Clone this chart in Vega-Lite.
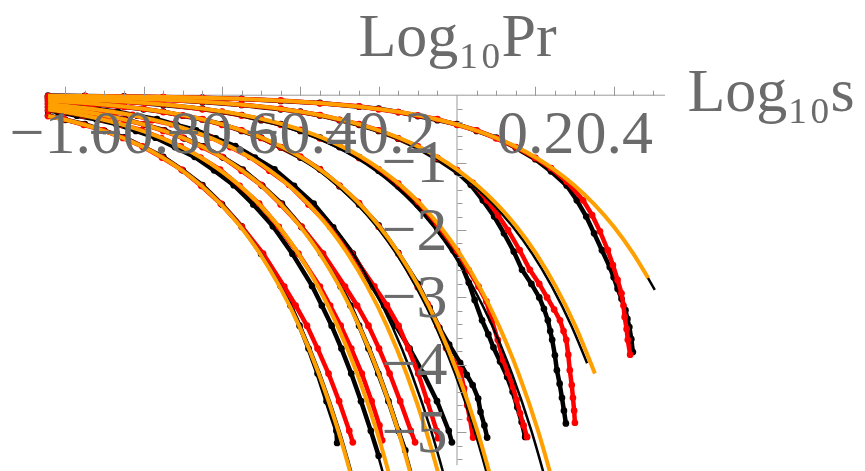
{
"$schema": "https://vega.github.io/schema/vega-lite/v6.json",
"width": 865, "height": 471, "autosize": "none", "padding": 0, "background": "white",
"config": {"view": {"stroke": null}, "axis": {"grid": false}},
"datasets": {
"axes": [{"x1": -1.044, "x2": 0.531, "y1": 0, "y2": 0}, {"x1": 0, "x2": 0, "y1": 0, "y2": -5.49}],
"od": [
{"g":"A","x":-1.044,"y":-0.009},{"g":"A","x":-1.0,"y":-0.010},{"g":"A","x":-0.9,"y":-0.015},{"g":"A","x":-0.8,"y":-0.022},{"g":"A","x":-0.7,"y":-0.031},{"g":"A","x":-0.6,"y":-0.046},{"g":"A","x":-0.5,"y":-0.067},{"g":"A","x":-0.4,"y":-0.097},{"g":"A","x":-0.3,"y":-0.141},{"g":"A","x":-0.2,"y":-0.205},{"g":"A","x":-0.15,"y":-0.247},{"g":"A","x":-0.1,"y":-0.298},{"g":"A","x":-0.05,"y":-0.36},{"g":"A","x":0,"y":-0.434},{"g":"A","x":0.05,"y":-0.524},{"g":"A","x":0.1,"y":-0.632},{"g":"A","x":0.15,"y":-0.763},{"g":"A","x":0.2,"y":-0.92},{"g":"A","x":0.25,"y":-1.11},{"g":"A","x":0.3,"y":-1.339},{"g":"A","x":0.35,"y":-1.616},{"g":"A","x":0.4,"y":-1.949},{"g":"A","x":0.45,"y":-2.351},{"g":"A","x":0.488,"y":-2.712},
{"g":"B","x":-1.044,"y":-0.022},{"g":"B","x":-0.948,"y":-0.031},{"g":"B","x":-0.848,"y":-0.046},{"g":"B","x":-0.748,"y":-0.067},{"g":"B","x":-0.648,"y":-0.097},{"g":"B","x":-0.548,"y":-0.141},{"g":"B","x":-0.448,"y":-0.205},{"g":"B","x":-0.398,"y":-0.247},{"g":"B","x":-0.348,"y":-0.298},{"g":"B","x":-0.298,"y":-0.36},{"g":"B","x":-0.248,"y":-0.434},{"g":"B","x":-0.198,"y":-0.524},{"g":"B","x":-0.148,"y":-0.632},{"g":"B","x":-0.098,"y":-0.763},{"g":"B","x":-0.048,"y":-0.92},{"g":"B","x":0.002,"y":-1.11},{"g":"B","x":0.052,"y":-1.339},{"g":"B","x":0.102,"y":-1.616},{"g":"B","x":0.152,"y":-1.949},{"g":"B","x":0.202,"y":-2.351},{"g":"B","x":0.252,"y":-2.837},{"g":"B","x":0.302,"y":-3.422},{"g":"B","x":0.352,"y":-4.129},
{"g":"C","x":-1.044,"y":-0.046},{"g":"C","x":-0.943,"y":-0.067},{"g":"C","x":-0.843,"y":-0.097},{"g":"C","x":-0.743,"y":-0.141},{"g":"C","x":-0.643,"y":-0.205},{"g":"C","x":-0.593,"y":-0.247},{"g":"C","x":-0.543,"y":-0.298},{"g":"C","x":-0.493,"y":-0.36},{"g":"C","x":-0.443,"y":-0.434},{"g":"C","x":-0.393,"y":-0.524},{"g":"C","x":-0.343,"y":-0.632},{"g":"C","x":-0.293,"y":-0.763},{"g":"C","x":-0.243,"y":-0.92},{"g":"C","x":-0.193,"y":-1.11},{"g":"C","x":-0.143,"y":-1.339},{"g":"C","x":-0.093,"y":-1.616},{"g":"C","x":-0.043,"y":-1.949},{"g":"C","x":0.007,"y":-2.351},{"g":"C","x":0.057,"y":-2.837},{"g":"C","x":0.107,"y":-3.422},{"g":"C","x":0.157,"y":-4.129},{"g":"C","x":0.207,"y":-4.981},{"g":"C","x":0.257,"y":-6.009},
{"g":"D","x":-1.044,"y":-0.081},{"g":"D","x":-0.998,"y":-0.097},{"g":"D","x":-0.898,"y":-0.141},{"g":"D","x":-0.798,"y":-0.205},{"g":"D","x":-0.748,"y":-0.247},{"g":"D","x":-0.698,"y":-0.298},{"g":"D","x":-0.648,"y":-0.36},{"g":"D","x":-0.598,"y":-0.434},{"g":"D","x":-0.548,"y":-0.524},{"g":"D","x":-0.498,"y":-0.632},{"g":"D","x":-0.448,"y":-0.763},{"g":"D","x":-0.398,"y":-0.92},{"g":"D","x":-0.348,"y":-1.11},{"g":"D","x":-0.298,"y":-1.339},{"g":"D","x":-0.248,"y":-1.616},{"g":"D","x":-0.198,"y":-1.949},{"g":"D","x":-0.148,"y":-2.351},{"g":"D","x":-0.098,"y":-2.837},{"g":"D","x":-0.048,"y":-3.422},{"g":"D","x":0.002,"y":-4.129},{"g":"D","x":0.052,"y":-4.981},{"g":"D","x":0.102,"y":-6.009},
{"g":"E","x":-1.044,"y":-0.133},{"g":"E","x":-1.029,"y":-0.141},{"g":"E","x":-0.929,"y":-0.205},{"g":"E","x":-0.879,"y":-0.247},{"g":"E","x":-0.829,"y":-0.298},{"g":"E","x":-0.779,"y":-0.36},{"g":"E","x":-0.729,"y":-0.434},{"g":"E","x":-0.679,"y":-0.524},{"g":"E","x":-0.629,"y":-0.632},{"g":"E","x":-0.579,"y":-0.763},{"g":"E","x":-0.529,"y":-0.92},{"g":"E","x":-0.479,"y":-1.11},{"g":"E","x":-0.429,"y":-1.339},{"g":"E","x":-0.379,"y":-1.616},{"g":"E","x":-0.329,"y":-1.949},{"g":"E","x":-0.279,"y":-2.351},{"g":"E","x":-0.229,"y":-2.837},{"g":"E","x":-0.179,"y":-3.422},{"g":"E","x":-0.129,"y":-4.129},{"g":"E","x":-0.079,"y":-4.981},{"g":"E","x":-0.029,"y":-6.009},
{"g":"F","x":-1.044,"y":-0.174},{"g":"F","x":-1.0,"y":-0.205},{"g":"F","x":-0.95,"y":-0.247},{"g":"F","x":-0.9,"y":-0.298},{"g":"F","x":-0.85,"y":-0.36},{"g":"F","x":-0.8,"y":-0.434},{"g":"F","x":-0.75,"y":-0.524},{"g":"F","x":-0.7,"y":-0.632},{"g":"F","x":-0.65,"y":-0.763},{"g":"F","x":-0.6,"y":-0.92},{"g":"F","x":-0.55,"y":-1.11},{"g":"F","x":-0.5,"y":-1.339},{"g":"F","x":-0.45,"y":-1.616},{"g":"F","x":-0.4,"y":-1.949},{"g":"F","x":-0.35,"y":-2.351},{"g":"F","x":-0.3,"y":-2.837},{"g":"F","x":-0.25,"y":-3.422},{"g":"F","x":-0.2,"y":-4.129},{"g":"F","x":-0.15,"y":-4.981},{"g":"F","x":-0.1,"y":-6.009},
{"g":"G","x":-1.044,"y":-0.214},{"g":"G","x":-1.005,"y":-0.247},{"g":"G","x":-0.955,"y":-0.298},{"g":"G","x":-0.905,"y":-0.36},{"g":"G","x":-0.855,"y":-0.434},{"g":"G","x":-0.805,"y":-0.524},{"g":"G","x":-0.755,"y":-0.632},{"g":"G","x":-0.705,"y":-0.763},{"g":"G","x":-0.655,"y":-0.92},{"g":"G","x":-0.605,"y":-1.11},{"g":"G","x":-0.555,"y":-1.339},{"g":"G","x":-0.505,"y":-1.616},{"g":"G","x":-0.455,"y":-1.949},{"g":"G","x":-0.405,"y":-2.351},{"g":"G","x":-0.355,"y":-2.837},{"g":"G","x":-0.305,"y":-3.422},{"g":"G","x":-0.255,"y":-4.129},{"g":"G","x":-0.205,"y":-4.981},{"g":"G","x":-0.155,"y":-6.009},
{"g":"H","x":-1.044,"y":-0.309},{"g":"H","x":-1.003,"y":-0.36},{"g":"H","x":-0.953,"y":-0.434},{"g":"H","x":-0.903,"y":-0.524},{"g":"H","x":-0.853,"y":-0.632},{"g":"H","x":-0.803,"y":-0.763},{"g":"H","x":-0.753,"y":-0.92},{"g":"H","x":-0.703,"y":-1.11},{"g":"H","x":-0.653,"y":-1.339},{"g":"H","x":-0.603,"y":-1.616},{"g":"H","x":-0.553,"y":-1.949},{"g":"H","x":-0.503,"y":-2.351},{"g":"H","x":-0.453,"y":-2.837},{"g":"H","x":-0.403,"y":-3.422},{"g":"H","x":-0.353,"y":-4.129},{"g":"H","x":-0.303,"y":-4.981},{"g":"H","x":-0.253,"y":-6.009}
],
"bf": [
{"g":"A","x":-1.044,"y":-0.009},{"g":"A","x":-1.0,"y":-0.010},{"g":"A","x":-0.9,"y":-0.015},{"g":"A","x":-0.8,"y":-0.022},{"g":"A","x":-0.7,"y":-0.031},{"g":"A","x":-0.6,"y":-0.046},{"g":"A","x":-0.5,"y":-0.067},{"g":"A","x":-0.4,"y":-0.097},{"g":"A","x":-0.3,"y":-0.141},{"g":"A","x":-0.2,"y":-0.205},{"g":"A","x":-0.15,"y":-0.247},{"g":"A","x":-0.1,"y":-0.298},{"g":"A","x":-0.05,"y":-0.36},{"g":"A","x":0,"y":-0.434},{"g":"A","x":0.05,"y":-0.524},{"g":"A","x":0.1,"y":-0.632},{"g":"A","x":0.15,"y":-0.763},{"g":"A","x":0.2,"y":-0.92},{"g":"A","x":0.25,"y":-1.11},{"g":"A","x":0.3,"y":-1.339},{"g":"A","x":0.35,"y":-1.616},{"g":"A","x":0.4,"y":-1.949},{"g":"A","x":0.45,"y":-2.351},{"g":"A","x":0.505,"y":-2.89},
{"g":"B","x":-1.044,"y":-0.023},{"g":"B","x":-0.958,"y":-0.031},{"g":"B","x":-0.858,"y":-0.046},{"g":"B","x":-0.758,"y":-0.067},{"g":"B","x":-0.658,"y":-0.097},{"g":"B","x":-0.558,"y":-0.141},{"g":"B","x":-0.458,"y":-0.205},{"g":"B","x":-0.408,"y":-0.247},{"g":"B","x":-0.358,"y":-0.298},{"g":"B","x":-0.308,"y":-0.36},{"g":"B","x":-0.258,"y":-0.434},{"g":"B","x":-0.208,"y":-0.524},{"g":"B","x":-0.158,"y":-0.632},{"g":"B","x":-0.108,"y":-0.763},{"g":"B","x":-0.058,"y":-0.92},{"g":"B","x":-0.008,"y":-1.11},{"g":"B","x":0.042,"y":-1.339},{"g":"B","x":0.092,"y":-1.616},{"g":"B","x":0.142,"y":-1.949},{"g":"B","x":0.192,"y":-2.351},{"g":"B","x":0.242,"y":-2.837},{"g":"B","x":0.292,"y":-3.422},{"g":"B","x":0.332,"y":-3.976},
{"g":"C","x":-1.044,"y":-0.049},{"g":"C","x":-0.96,"y":-0.067},{"g":"C","x":-0.86,"y":-0.097},{"g":"C","x":-0.76,"y":-0.141},{"g":"C","x":-0.66,"y":-0.205},{"g":"C","x":-0.61,"y":-0.247},{"g":"C","x":-0.56,"y":-0.298},{"g":"C","x":-0.51,"y":-0.36},{"g":"C","x":-0.46,"y":-0.434},{"g":"C","x":-0.41,"y":-0.524},{"g":"C","x":-0.36,"y":-0.632},{"g":"C","x":-0.31,"y":-0.763},{"g":"C","x":-0.26,"y":-0.92},{"g":"C","x":-0.21,"y":-1.11},{"g":"C","x":-0.16,"y":-1.339},{"g":"C","x":-0.11,"y":-1.616},{"g":"C","x":-0.06,"y":-1.949},{"g":"C","x":-0.01,"y":-2.351},{"g":"C","x":0.04,"y":-2.837},{"g":"C","x":0.09,"y":-3.422},{"g":"C","x":0.14,"y":-4.129},{"g":"C","x":0.19,"y":-4.981},{"g":"C","x":0.24,"y":-6.009},
{"g":"D","x":-1.044,"y":-0.084},{"g":"D","x":-1.005,"y":-0.097},{"g":"D","x":-0.905,"y":-0.141},{"g":"D","x":-0.805,"y":-0.205},{"g":"D","x":-0.755,"y":-0.247},{"g":"D","x":-0.705,"y":-0.298},{"g":"D","x":-0.655,"y":-0.36},{"g":"D","x":-0.605,"y":-0.434},{"g":"D","x":-0.555,"y":-0.524},{"g":"D","x":-0.505,"y":-0.632},{"g":"D","x":-0.455,"y":-0.763},{"g":"D","x":-0.405,"y":-0.92},{"g":"D","x":-0.355,"y":-1.11},{"g":"D","x":-0.305,"y":-1.339},{"g":"D","x":-0.255,"y":-1.616},{"g":"D","x":-0.205,"y":-1.949},{"g":"D","x":-0.155,"y":-2.351},{"g":"D","x":-0.105,"y":-2.837},{"g":"D","x":-0.055,"y":-3.422},{"g":"D","x":-0.005,"y":-4.129},{"g":"D","x":0.045,"y":-4.981},{"g":"D","x":0.095,"y":-6.009},
{"g":"E","x":-1.044,"y":-0.127},{"g":"E","x":-1.016,"y":-0.141},{"g":"E","x":-0.916,"y":-0.205},{"g":"E","x":-0.866,"y":-0.247},{"g":"E","x":-0.816,"y":-0.298},{"g":"E","x":-0.766,"y":-0.36},{"g":"E","x":-0.716,"y":-0.434},{"g":"E","x":-0.666,"y":-0.524},{"g":"E","x":-0.616,"y":-0.632},{"g":"E","x":-0.566,"y":-0.763},{"g":"E","x":-0.516,"y":-0.92},{"g":"E","x":-0.466,"y":-1.11},{"g":"E","x":-0.416,"y":-1.339},{"g":"E","x":-0.366,"y":-1.616},{"g":"E","x":-0.316,"y":-1.949},{"g":"E","x":-0.266,"y":-2.351},{"g":"E","x":-0.216,"y":-2.837},{"g":"E","x":-0.166,"y":-3.422},{"g":"E","x":-0.116,"y":-4.129},{"g":"E","x":-0.066,"y":-4.981},{"g":"E","x":-0.016,"y":-6.009},
{"g":"F","x":-1.044,"y":-0.172},{"g":"F","x":-0.997,"y":-0.205},{"g":"F","x":-0.947,"y":-0.247},{"g":"F","x":-0.897,"y":-0.298},{"g":"F","x":-0.847,"y":-0.36},{"g":"F","x":-0.797,"y":-0.434},{"g":"F","x":-0.747,"y":-0.524},{"g":"F","x":-0.697,"y":-0.632},{"g":"F","x":-0.647,"y":-0.763},{"g":"F","x":-0.597,"y":-0.92},{"g":"F","x":-0.547,"y":-1.11},{"g":"F","x":-0.497,"y":-1.339},{"g":"F","x":-0.447,"y":-1.616},{"g":"F","x":-0.397,"y":-1.949},{"g":"F","x":-0.347,"y":-2.351},{"g":"F","x":-0.297,"y":-2.837},{"g":"F","x":-0.247,"y":-3.422},{"g":"F","x":-0.197,"y":-4.129},{"g":"F","x":-0.147,"y":-4.981},{"g":"F","x":-0.097,"y":-6.009},
{"g":"G","x":-1.044,"y":-0.226},{"g":"G","x":-1.02,"y":-0.247},{"g":"G","x":-0.97,"y":-0.298},{"g":"G","x":-0.92,"y":-0.36},{"g":"G","x":-0.87,"y":-0.434},{"g":"G","x":-0.82,"y":-0.524},{"g":"G","x":-0.77,"y":-0.632},{"g":"G","x":-0.72,"y":-0.763},{"g":"G","x":-0.67,"y":-0.92},{"g":"G","x":-0.62,"y":-1.11},{"g":"G","x":-0.57,"y":-1.339},{"g":"G","x":-0.52,"y":-1.616},{"g":"G","x":-0.47,"y":-1.949},{"g":"G","x":-0.42,"y":-2.351},{"g":"G","x":-0.37,"y":-2.837},{"g":"G","x":-0.32,"y":-3.422},{"g":"G","x":-0.27,"y":-4.129},{"g":"G","x":-0.22,"y":-4.981},{"g":"G","x":-0.17,"y":-6.009},
{"g":"H","x":-1.044,"y":-0.305},{"g":"H","x":-1.0,"y":-0.36},{"g":"H","x":-0.95,"y":-0.434},{"g":"H","x":-0.9,"y":-0.524},{"g":"H","x":-0.85,"y":-0.632},{"g":"H","x":-0.8,"y":-0.763},{"g":"H","x":-0.75,"y":-0.92},{"g":"H","x":-0.7,"y":-1.11},{"g":"H","x":-0.65,"y":-1.339},{"g":"H","x":-0.6,"y":-1.616},{"g":"H","x":-0.55,"y":-1.949},{"g":"H","x":-0.5,"y":-2.351},{"g":"H","x":-0.45,"y":-2.837},{"g":"H","x":-0.4,"y":-3.422},{"g":"H","x":-0.35,"y":-4.129},{"g":"H","x":-0.3,"y":-4.981},{"g":"H","x":-0.25,"y":-6.009}
],
"rd": [
{"g":"A","x":-1.044,"y":-0.012},{"g":"A","x":-0.95,"y":-0.014},{"g":"A","x":-0.85,"y":-0.02},{"g":"A","x":-0.75,"y":-0.028},{"g":"A","x":-0.65,"y":-0.036},{"g":"A","x":-0.55,"y":-0.058},{"g":"A","x":-0.45,"y":-0.078},{"g":"A","x":-0.35,"y":-0.12},{"g":"A","x":-0.25,"y":-0.165},{"g":"A","x":-0.2,"y":-0.21},{"g":"A","x":-0.15,"y":-0.25},{"g":"A","x":-0.1,"y":-0.3},{"g":"A","x":-0.05,"y":-0.355},{"g":"A","x":0,"y":-0.44},{"g":"A","x":0.05,"y":-0.52},{"g":"A","x":0.1,"y":-0.64},{"g":"A","x":0.15,"y":-0.77},{"g":"A","x":0.2,"y":-0.93},{"g":"A","x":0.24,"y":-1.08},{"g":"A","x":0.28,"y":-1.28},{"g":"A","x":0.322,"y":-1.56},{"g":"A","x":0.345,"y":-1.78},{"g":"A","x":0.365,"y":-2.02},{"g":"A","x":0.385,"y":-2.3},{"g":"A","x":0.398,"y":-2.52},{"g":"A","x":0.41,"y":-2.74},{"g":"A","x":0.42,"y":-2.94},{"g":"A","x":0.425,"y":-3.12},{"g":"A","x":0.428,"y":-3.29},{"g":"A","x":0.433,"y":-3.47},{"g":"A","x":0.436,"y":-3.63},{"g":"A","x":0.442,"y":-3.85},
{"g":"B","x":-1.044,"y":-0.025},{"g":"B","x":-0.95,"y":-0.03},{"g":"B","x":-0.85,"y":-0.045},{"g":"B","x":-0.75,"y":-0.07},{"g":"B","x":-0.65,"y":-0.095},{"g":"B","x":-0.55,"y":-0.14},{"g":"B","x":-0.45,"y":-0.2},{"g":"B","x":-0.4,"y":-0.25},{"g":"B","x":-0.35,"y":-0.295},{"g":"B","x":-0.3,"y":-0.365},{"g":"B","x":-0.25,"y":-0.43},{"g":"B","x":-0.2,"y":-0.52},{"g":"B","x":-0.15,"y":-0.64},{"g":"B","x":-0.1,"y":-0.76},{"g":"B","x":-0.05,"y":-0.93},{"g":"B","x":0,"y":-1.11},{"g":"B","x":0.04,"y":-1.3},{"g":"B","x":0.077,"y":-1.56},{"g":"B","x":0.105,"y":-1.78},{"g":"B","x":0.13,"y":-2.0},{"g":"B","x":0.16,"y":-2.3},{"g":"B","x":0.186,"y":-2.59},{"g":"B","x":0.21,"y":-2.8},{"g":"B","x":0.23,"y":-3.0},{"g":"B","x":0.248,"y":-3.18},{"g":"B","x":0.263,"y":-3.34},{"g":"B","x":0.272,"y":-3.5},{"g":"B","x":0.279,"y":-3.63},{"g":"B","x":0.284,"y":-3.85},{"g":"B","x":0.288,"y":-4.08},{"g":"B","x":0.293,"y":-4.3},{"g":"B","x":0.296,"y":-4.49},{"g":"B","x":0.299,"y":-4.68},{"g":"B","x":0.301,"y":-4.86},
{"g":"C","x":-1.044,"y":-0.05},{"g":"C","x":-0.95,"y":-0.06},{"g":"C","x":-0.85,"y":-0.1},{"g":"C","x":-0.75,"y":-0.135},{"g":"C","x":-0.65,"y":-0.21},{"g":"C","x":-0.6,"y":-0.245},{"g":"C","x":-0.55,"y":-0.3},{"g":"C","x":-0.5,"y":-0.355},{"g":"C","x":-0.45,"y":-0.44},{"g":"C","x":-0.4,"y":-0.515},{"g":"C","x":-0.35,"y":-0.64},{"g":"C","x":-0.3,"y":-0.755},{"g":"C","x":-0.25,"y":-0.93},{"g":"C","x":-0.2,"y":-1.1},{"g":"C","x":-0.15,"y":-1.31},{"g":"C","x":-0.1,"y":-1.58},{"g":"C","x":-0.05,"y":-1.92},{"g":"C","x":0,"y":-2.31},{"g":"C","x":0.03,"y":-2.6},{"g":"C","x":0.055,"y":-2.84},{"g":"C","x":0.075,"y":-3.06},{"g":"C","x":0.089,"y":-3.34},{"g":"C","x":0.104,"y":-3.63},{"g":"C","x":0.118,"y":-3.93},{"g":"C","x":0.13,"y":-4.12},{"g":"C","x":0.143,"y":-4.33},{"g":"C","x":0.152,"y":-4.52},{"g":"C","x":0.161,"y":-4.72},{"g":"C","x":0.17,"y":-4.9},{"g":"C","x":0.179,"y":-5.07},
{"g":"D","x":-1.044,"y":-0.085},{"g":"D","x":-0.95,"y":-0.12},{"g":"D","x":-0.85,"y":-0.175},{"g":"D","x":-0.8,"y":-0.2},{"g":"D","x":-0.75,"y":-0.25},{"g":"D","x":-0.7,"y":-0.3},{"g":"D","x":-0.65,"y":-0.355},{"g":"D","x":-0.6,"y":-0.44},{"g":"D","x":-0.55,"y":-0.52},{"g":"D","x":-0.5,"y":-0.635},{"g":"D","x":-0.45,"y":-0.77},{"g":"D","x":-0.4,"y":-0.91},{"g":"D","x":-0.35,"y":-1.1},{"g":"D","x":-0.3,"y":-1.34},{"g":"D","x":-0.25,"y":-1.6},{"g":"D","x":-0.2,"y":-1.95},{"g":"D","x":-0.15,"y":-2.35},{"g":"D","x":-0.1,"y":-2.85},{"g":"D","x":-0.075,"y":-3.1},{"g":"D","x":-0.05,"y":-3.42},{"g":"D","x":-0.028,"y":-3.75},{"g":"D","x":-0.01,"y":-3.95},{"g":"D","x":0.008,"y":-4.08},{"g":"D","x":0.018,"y":-4.35},{"g":"D","x":0.026,"y":-4.6},{"g":"D","x":0.033,"y":-4.8},{"g":"D","x":0.041,"y":-5.08},
{"g":"E","x":-1.044,"y":-0.13},{"g":"E","x":-0.979,"y":-0.175},{"g":"E","x":-0.929,"y":-0.2},{"g":"E","x":-0.879,"y":-0.255},{"g":"E","x":-0.829,"y":-0.29},{"g":"E","x":-0.779,"y":-0.37},{"g":"E","x":-0.729,"y":-0.43},{"g":"E","x":-0.679,"y":-0.53},{"g":"E","x":-0.629,"y":-0.625},{"g":"E","x":-0.579,"y":-0.77},{"g":"E","x":-0.529,"y":-0.915},{"g":"E","x":-0.479,"y":-1.12},{"g":"E","x":-0.429,"y":-1.33},{"g":"E","x":-0.379,"y":-1.62},{"g":"E","x":-0.324,"y":-1.95},{"g":"E","x":-0.269,"y":-2.351},{"g":"E","x":-0.211,"y":-2.837},{"g":"E","x":-0.179,"y":-3.116},{"g":"E","x":-0.149,"y":-3.422},{"g":"E","x":-0.124,"y":-3.76},{"g":"E","x":-0.099,"y":-4.129},{"g":"E","x":-0.076,"y":-4.535},{"g":"E","x":-0.052,"y":-4.981},{"g":"E","x":-0.048,"y":-5.09},
{"g":"F","x":-1.044,"y":-0.17},{"g":"F","x":-1.0,"y":-0.21},{"g":"F","x":-0.95,"y":-0.25},{"g":"F","x":-0.9,"y":-0.295},{"g":"F","x":-0.85,"y":-0.365},{"g":"F","x":-0.8,"y":-0.43},{"g":"F","x":-0.75,"y":-0.53},{"g":"F","x":-0.7,"y":-0.63},{"g":"F","x":-0.65,"y":-0.77},{"g":"F","x":-0.6,"y":-0.915},{"g":"F","x":-0.55,"y":-1.12},{"g":"F","x":-0.5,"y":-1.33},{"g":"F","x":-0.45,"y":-1.62},{"g":"F","x":-0.397,"y":-1.95},{"g":"F","x":-0.342,"y":-2.35},{"g":"F","x":-0.286,"y":-2.84},{"g":"F","x":-0.255,"y":-3.12},{"g":"F","x":-0.226,"y":-3.42},{"g":"F","x":-0.199,"y":-3.76},{"g":"F","x":-0.172,"y":-4.13},{"g":"F","x":-0.145,"y":-4.54},{"g":"F","x":-0.118,"y":-4.98},{"g":"F","x":-0.107,"y":-5.15},
{"g":"G","x":-1.044,"y":-0.215},{"g":"G","x":-1.005,"y":-0.25},{"g":"G","x":-0.955,"y":-0.3},{"g":"G","x":-0.905,"y":-0.355},{"g":"G","x":-0.855,"y":-0.44},{"g":"G","x":-0.805,"y":-0.52},{"g":"G","x":-0.755,"y":-0.635},{"g":"G","x":-0.705,"y":-0.76},{"g":"G","x":-0.655,"y":-0.925},{"g":"G","x":-0.605,"y":-1.105},{"g":"G","x":-0.555,"y":-1.345},{"g":"G","x":-0.505,"y":-1.61},{"g":"G","x":-0.455,"y":-1.955},{"g":"G","x":-0.405,"y":-2.35},{"g":"G","x":-0.35,"y":-2.84},{"g":"G","x":-0.324,"y":-3.12},{"g":"G","x":-0.297,"y":-3.42},{"g":"G","x":-0.27,"y":-3.76},{"g":"G","x":-0.243,"y":-4.13},{"g":"G","x":-0.218,"y":-4.54},{"g":"G","x":-0.198,"y":-4.9},{"g":"G","x":-0.191,"y":-5.12},
{"g":"H","x":-1.044,"y":-0.31},{"g":"H","x":-1.003,"y":-0.355},{"g":"H","x":-0.953,"y":-0.44},{"g":"H","x":-0.903,"y":-0.52},{"g":"H","x":-0.853,"y":-0.635},{"g":"H","x":-0.803,"y":-0.76},{"g":"H","x":-0.753,"y":-0.925},{"g":"H","x":-0.703,"y":-1.105},{"g":"H","x":-0.653,"y":-1.345},{"g":"H","x":-0.603,"y":-1.61},{"g":"H","x":-0.549,"y":-1.955},{"g":"H","x":-0.495,"y":-2.35},{"g":"H","x":-0.441,"y":-2.84},{"g":"H","x":-0.412,"y":-3.12},{"g":"H","x":-0.383,"y":-3.42},{"g":"H","x":-0.356,"y":-3.76},{"g":"H","x":-0.328,"y":-4.13},{"g":"H","x":-0.301,"y":-4.54},{"g":"H","x":-0.275,"y":-4.98},{"g":"H","x":-0.266,"y":-5.15}
],
"bd": [
{"g":"A","x":-1.044,"y":-0.005},{"g":"A","x":-0.95,"y":-0.01},{"g":"A","x":-0.85,"y":-0.018},{"g":"A","x":-0.75,"y":-0.03},{"g":"A","x":-0.65,"y":-0.04},{"g":"A","x":-0.55,"y":-0.055},{"g":"A","x":-0.45,"y":-0.085},{"g":"A","x":-0.35,"y":-0.115},{"g":"A","x":-0.25,"y":-0.17},{"g":"A","x":-0.2,"y":-0.2},{"g":"A","x":-0.15,"y":-0.25},{"g":"A","x":-0.1,"y":-0.31},{"g":"A","x":-0.05,"y":-0.37},{"g":"A","x":0,"y":-0.43},{"g":"A","x":0.05,"y":-0.53},{"g":"A","x":0.1,"y":-0.63},{"g":"A","x":0.15,"y":-0.78},{"g":"A","x":0.2,"y":-0.95},{"g":"A","x":0.24,"y":-1.13},{"g":"A","x":0.28,"y":-1.34},{"g":"A","x":0.306,"y":-1.56},{"g":"A","x":0.33,"y":-1.8},{"g":"A","x":0.35,"y":-2.05},{"g":"A","x":0.37,"y":-2.3},{"g":"A","x":0.39,"y":-2.55},{"g":"A","x":0.4,"y":-2.7},{"g":"A","x":0.41,"y":-2.87},{"g":"A","x":0.42,"y":-3.02},{"g":"A","x":0.43,"y":-3.19},{"g":"A","x":0.435,"y":-3.32},{"g":"A","x":0.44,"y":-3.44},{"g":"A","x":0.445,"y":-3.62},{"g":"A","x":0.449,"y":-3.81},
{"g":"B","x":-1.044,"y":-0.02},{"g":"B","x":-0.95,"y":-0.033},{"g":"B","x":-0.85,"y":-0.05},{"g":"B","x":-0.75,"y":-0.065},{"g":"B","x":-0.65,"y":-0.1},{"g":"B","x":-0.55,"y":-0.145},{"g":"B","x":-0.45,"y":-0.21},{"g":"B","x":-0.4,"y":-0.245},{"g":"B","x":-0.35,"y":-0.3},{"g":"B","x":-0.3,"y":-0.37},{"g":"B","x":-0.25,"y":-0.44},{"g":"B","x":-0.2,"y":-0.53},{"g":"B","x":-0.15,"y":-0.645},{"g":"B","x":-0.1,"y":-0.78},{"g":"B","x":-0.05,"y":-0.95},{"g":"B","x":0,"y":-1.14},{"g":"B","x":0.035,"y":-1.33},{"g":"B","x":0.066,"y":-1.56},{"g":"B","x":0.095,"y":-1.8},{"g":"B","x":0.12,"y":-2.05},{"g":"B","x":0.145,"y":-2.32},{"g":"B","x":0.166,"y":-2.59},{"g":"B","x":0.19,"y":-2.8},{"g":"B","x":0.21,"y":-3.0},{"g":"B","x":0.222,"y":-3.17},{"g":"B","x":0.232,"y":-3.34},{"g":"B","x":0.238,"y":-3.5},{"g":"B","x":0.243,"y":-3.63},{"g":"B","x":0.25,"y":-3.86},{"g":"B","x":0.255,"y":-4.08},{"g":"B","x":0.262,"y":-4.28},{"g":"B","x":0.268,"y":-4.49},{"g":"B","x":0.273,"y":-4.68},{"g":"B","x":0.278,"y":-4.87},
{"g":"C","x":-1.044,"y":-0.045},{"g":"C","x":-0.95,"y":-0.07},{"g":"C","x":-0.85,"y":-0.095},{"g":"C","x":-0.75,"y":-0.145},{"g":"C","x":-0.65,"y":-0.2},{"g":"C","x":-0.6,"y":-0.25},{"g":"C","x":-0.55,"y":-0.295},{"g":"C","x":-0.5,"y":-0.37},{"g":"C","x":-0.45,"y":-0.43},{"g":"C","x":-0.4,"y":-0.53},{"g":"C","x":-0.35,"y":-0.63},{"g":"C","x":-0.3,"y":-0.77},{"g":"C","x":-0.25,"y":-0.92},{"g":"C","x":-0.2,"y":-1.12},{"g":"C","x":-0.15,"y":-1.35},{"g":"C","x":-0.1,"y":-1.63},{"g":"C","x":-0.05,"y":-1.98},{"g":"C","x":-0.01,"y":-2.3},{"g":"C","x":0.01,"y":-2.5},{"g":"C","x":0.03,"y":-2.78},{"g":"C","x":0.045,"y":-3.04},{"g":"C","x":0.064,"y":-3.34},{"g":"C","x":0.08,"y":-3.55},{"g":"C","x":0.093,"y":-3.74},{"g":"C","x":0.11,"y":-3.95},{"g":"C","x":0.128,"y":-4.18},{"g":"C","x":0.142,"y":-4.4},{"g":"C","x":0.154,"y":-4.63},{"g":"C","x":0.165,"y":-4.85},{"g":"C","x":0.174,"y":-5.07},
{"g":"D","x":-1.044,"y":-0.08},{"g":"D","x":-0.95,"y":-0.125},{"g":"D","x":-0.85,"y":-0.17},{"g":"D","x":-0.8,"y":-0.21},{"g":"D","x":-0.75,"y":-0.245},{"g":"D","x":-0.7,"y":-0.305},{"g":"D","x":-0.65,"y":-0.36},{"g":"D","x":-0.6,"y":-0.43},{"g":"D","x":-0.55,"y":-0.53},{"g":"D","x":-0.5,"y":-0.63},{"g":"D","x":-0.45,"y":-0.775},{"g":"D","x":-0.4,"y":-0.925},{"g":"D","x":-0.35,"y":-1.1},{"g":"D","x":-0.3,"y":-1.35},{"g":"D","x":-0.25,"y":-1.62},{"g":"D","x":-0.2,"y":-1.93},{"g":"D","x":-0.15,"y":-2.34},{"g":"D","x":-0.1,"y":-2.8},{"g":"D","x":-0.07,"y":-3.15},{"g":"D","x":-0.045,"y":-3.45},{"g":"D","x":-0.02,"y":-3.7},{"g":"D","x":0.008,"y":-3.97},{"g":"D","x":0.025,"y":-4.15},{"g":"D","x":0.04,"y":-4.3},{"g":"D","x":0.054,"y":-4.5},{"g":"D","x":0.06,"y":-4.7},{"g":"D","x":0.07,"y":-4.9},{"g":"D","x":0.077,"y":-5.08},
{"g":"E","x":-1.044,"y":-0.125},{"g":"E","x":-0.966,"y":-0.165},{"g":"E","x":-0.916,"y":-0.21},{"g":"E","x":-0.866,"y":-0.245},{"g":"E","x":-0.816,"y":-0.305},{"g":"E","x":-0.766,"y":-0.355},{"g":"E","x":-0.716,"y":-0.44},{"g":"E","x":-0.666,"y":-0.52},{"g":"E","x":-0.616,"y":-0.64},{"g":"E","x":-0.566,"y":-0.755},{"g":"E","x":-0.516,"y":-0.925},{"g":"E","x":-0.466,"y":-1.1},{"g":"E","x":-0.416,"y":-1.345},{"g":"E","x":-0.366,"y":-1.61},{"g":"E","x":-0.316,"y":-1.96},{"g":"E","x":-0.266,"y":-2.35},{"g":"E","x":-0.216,"y":-2.84},{"g":"E","x":-0.186,"y":-3.12},{"g":"E","x":-0.156,"y":-3.42},{"g":"E","x":-0.121,"y":-3.76},{"g":"E","x":-0.086,"y":-4.13},{"g":"E","x":-0.051,"y":-4.54},{"g":"E","x":-0.021,"y":-4.98},{"g":"E","x":-0.013,"y":-5.15},
{"g":"F","x":-1.044,"y":-0.175},{"g":"F","x":-0.997,"y":-0.2},{"g":"F","x":-0.947,"y":-0.255},{"g":"F","x":-0.897,"y":-0.3},{"g":"F","x":-0.847,"y":-0.355},{"g":"F","x":-0.797,"y":-0.44},{"g":"F","x":-0.747,"y":-0.52},{"g":"F","x":-0.697,"y":-0.64},{"g":"F","x":-0.647,"y":-0.76},{"g":"F","x":-0.597,"y":-0.925},{"g":"F","x":-0.547,"y":-1.105},{"g":"F","x":-0.497,"y":-1.345},{"g":"F","x":-0.447,"y":-1.61},{"g":"F","x":-0.397,"y":-1.955},{"g":"F","x":-0.347,"y":-2.345},{"g":"F","x":-0.297,"y":-2.84},{"g":"F","x":-0.272,"y":-3.12},{"g":"F","x":-0.25,"y":-3.42},{"g":"F","x":-0.226,"y":-3.76},{"g":"F","x":-0.201,"y":-4.13},{"g":"F","x":-0.175,"y":-4.54},{"g":"F","x":-0.15,"y":-4.98},{"g":"F","x":-0.132,"y":-5.27},
{"g":"G","x":-1.044,"y":-0.23},{"g":"G","x":-1.02,"y":-0.245},{"g":"G","x":-0.97,"y":-0.305},{"g":"G","x":-0.92,"y":-0.36},{"g":"G","x":-0.87,"y":-0.43},{"g":"G","x":-0.82,"y":-0.53},{"g":"G","x":-0.77,"y":-0.63},{"g":"G","x":-0.72,"y":-0.77},{"g":"G","x":-0.67,"y":-0.915},{"g":"G","x":-0.62,"y":-1.115},{"g":"G","x":-0.57,"y":-1.335},{"g":"G","x":-0.52,"y":-1.62},{"g":"G","x":-0.47,"y":-1.945},{"g":"G","x":-0.42,"y":-2.355},{"g":"G","x":-0.37,"y":-2.83},{"g":"G","x":-0.345,"y":-3.12},{"g":"G","x":-0.32,"y":-3.42},{"g":"G","x":-0.295,"y":-3.76},{"g":"G","x":-0.27,"y":-4.13},{"g":"G","x":-0.245,"y":-4.54},{"g":"G","x":-0.22,"y":-4.98},{"g":"G","x":-0.2,"y":-5.35},
{"g":"H","x":-1.044,"y":-0.3},{"g":"H","x":-1.0,"y":-0.365},{"g":"H","x":-0.95,"y":-0.43},{"g":"H","x":-0.9,"y":-0.53},{"g":"H","x":-0.85,"y":-0.625},{"g":"H","x":-0.8,"y":-0.77},{"g":"H","x":-0.75,"y":-0.915},{"g":"H","x":-0.7,"y":-1.115},{"g":"H","x":-0.65,"y":-1.335},{"g":"H","x":-0.6,"y":-1.62},{"g":"H","x":-0.55,"y":-1.945},{"g":"H","x":-0.5,"y":-2.355},{"g":"H","x":-0.45,"y":-2.83},{"g":"H","x":-0.425,"y":-3.12},{"g":"H","x":-0.402,"y":-3.42},{"g":"H","x":-0.379,"y":-3.76},{"g":"H","x":-0.356,"y":-4.13},{"g":"H","x":-0.333,"y":-4.54},{"g":"H","x":-0.308,"y":-4.98},{"g":"H","x":-0.306,"y":-5.16}
]
},
"layer": [
{
"data": {"name": "axes"},
"mark": {"type": "rule", "color": "#9a9a9a", "strokeWidth": 1},
"encoding": {
"x": {"field": "x1", "type": "quantitative", "scale": {"domain": [-1.1667, 1.0416], "nice": false, "zero": false},
 "axis": {"orient": "bottom", "offset": -375.8, "values": [-1, -0.8, -0.6, -0.4, -0.2, 0.2, 0.4], "format": ".1f", "ticks": false, "domain": false,
  "labelFont": "Liberation Serif", "labelFontSize": 62, "labelColor": "#6b6b6b", "labelBaseline": "alphabetic", "labelPadding": 57,
  "labelOverlap": false, "labelFlush": false, "labelBound": false, "zindex": 1,
  "title": "Log₁₀s", "titleFont": "Liberation Serif", "titleFontSize": 62, "titleFontWeight": "normal", "titleColor": "#6b6b6b",
  "titleX": 687, "titleY": 15, "titleAlign": "left", "titleBaseline": "alphabetic", "titleAngle": 0}},
"x2": {"field": "x2"},
"y": {"field": "y1", "type": "quantitative", "scale": {"domain": [-5.5757, 1.4125], "nice": false, "zero": false},
 "axis": {"orient": "left", "offset": -457, "values": [-1, -2, -3, -4, -5], "format": "d", "ticks": false, "domain": false,
  "labelFont": "Liberation Serif", "labelFontSize": 62, "labelColor": "#6b6b6b", "labelBaseline": "middle", "labelAlign": "right", "labelPadding": 10,
  "labelOverlap": false, "labelFlush": false, "labelBound": false, "zindex": 1,
  "title": "Log₁₀Pr", "titleFont": "Liberation Serif", "titleFontSize": 62, "titleFontWeight": "normal", "titleColor": "#6b6b6b",
  "titleX": 0, "titleY": 55, "titleAlign": "center", "titleBaseline": "alphabetic", "titleAngle": 0}},
"y2": {"field": "y2"}
}
},
{
"data": {"name": "bd"},
"mark": {"type": "line", "color": "black", "strokeWidth": 4.5, "clip": true, "point": {"filled": true, "size": 45, "color": "black"}},
"encoding": {
"x": {"field": "x", "type": "quantitative", "axis": {"orient": "bottom", "offset": -375.8, "values": [-1, -0.95, -0.9, -0.85, -0.8, -0.75, -0.7, -0.65, -0.6, -0.55, -0.5, -0.45, -0.4, -0.35, -0.3, -0.25, -0.2, -0.15, -0.1, -0.05, 0.05, 0.1, 0.15, 0.2, 0.25, 0.3, 0.35, 0.4, 0.45, 0.5], "labels": false, "domain": false, "tickSize": -5, "tickColor": "#9a9a9a", "tickWidth": 1, "title": null, "zindex": 1}},
"y": {"field": "y", "type": "quantitative", "axis": {"orient": "left", "offset": -457, "values": [-0.2, -0.4, -0.6, -0.8, -1, -1.2, -1.4, -1.6, -1.8, -2, -2.2, -2.4, -2.6, -2.8, -3, -3.2, -3.4, -3.6, -3.8, -4, -4.2, -4.4, -4.6, -4.8, -5, -5.2, -5.4], "labels": false, "domain": false, "tickSize": -5, "tickColor": "#9a9a9a", "tickWidth": 1, "title": null, "zindex": 1}},
"detail": {"field": "g"}
}
},
{
"data": {"name": "rd"},
"mark": {"type": "line", "color": "#ff0000", "strokeWidth": 4.5, "clip": true, "point": {"filled": true, "size": 45, "color": "#ff0000"}},
"encoding": {
"x": {"field": "x", "type": "quantitative", "axis": {"orient": "bottom", "offset": -375.8, "values": [-1, -0.8, -0.6, -0.4, -0.2, 0.2, 0.4], "labels": false, "domain": false, "tickSize": -9, "tickColor": "#9a9a9a", "tickWidth": 1, "title": null, "zindex": 1}},
"y": {"field": "y", "type": "quantitative", "axis": {"orient": "left", "offset": -457, "values": [-1, -2, -3, -4, -5], "labels": false, "domain": false, "tickSize": -9, "tickColor": "#9a9a9a", "tickWidth": 1, "title": null, "zindex": 1}},
"detail": {"field": "g"}
}
},
{
"data": {"name": "bf"},
"mark": {"type": "line", "color": "black", "strokeWidth": 2.5, "clip": true, "interpolate": "monotone"},
"encoding": {
"x": {"field": "x", "type": "quantitative", "axis": null},
"y": {"field": "y", "type": "quantitative", "axis": null},
"detail": {"field": "g"}
}
},
{
"data": {"name": "od"},
"mark": {"type": "line", "color": "#ffa000", "strokeWidth": 4, "clip": true, "interpolate": "monotone"},
"encoding": {
"x": {"field": "x", "type": "quantitative", "axis": null},
"y": {"field": "y", "type": "quantitative", "axis": null},
"detail": {"field": "g"}
}
}
],
"resolve": {"axis": {"x": "independent", "y": "independent"}}
}
